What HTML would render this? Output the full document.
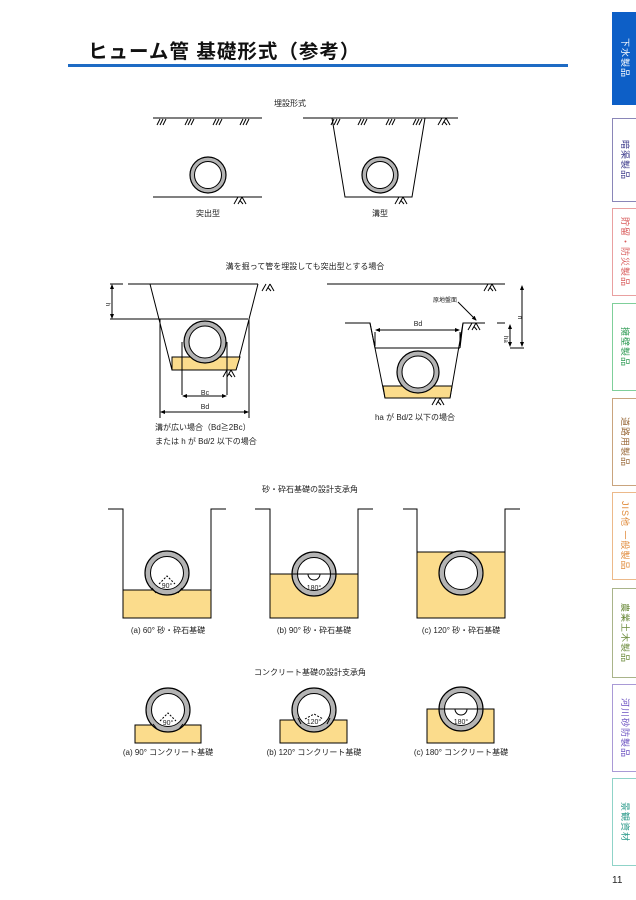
<!DOCTYPE html>
<html><head><meta charset="utf-8"><style>
html,body{margin:0;padding:0;background:#fff}
body{width:636px;height:900px;position:relative;overflow:hidden;font-family:"Liberation Sans","Noto Sans CJK JP",sans-serif}
.tab{position:absolute;left:612px;width:26px;border:1px solid;border-right:none;box-sizing:border-box;display:flex;align-items:center;justify-content:center}
.tab span{writing-mode:vertical-rl;text-orientation:sideways;font-size:9px;letter-spacing:1px;white-space:nowrap}
</style></head><body>
<div style="position:absolute;left:88px;top:35px;font-size:19.5px;font-weight:bold;color:#111;letter-spacing:1px">ヒューム管 基礎形式（参考）</div>
<div style="position:absolute;left:68px;top:64px;width:500px;height:3px;background:#1e6bc4"></div>

<div class="tab" style="top:12px;height:93px;background:#0d5fc7;border-color:#0d5fc7"><span style="color:#fff">下水製品</span></div>
<div class="tab" style="top:118px;height:84px;border-color:#8a86b8"><span style="color:#3c3a8a">暗渠製品</span></div>
<div class="tab" style="top:208px;height:88px;border-color:#e9a0a0"><span style="color:#d85a5a">貯留・防災製品</span></div>
<div class="tab" style="top:303px;height:88px;border-color:#7fcf9a"><span style="color:#2c9a52">擁壁製品</span></div>
<div class="tab" style="top:398px;height:88px;border-color:#c9a47e"><span style="color:#9a6a3a">道路用製品</span></div>
<div class="tab" style="top:492px;height:88px;border-color:#ecb98a"><span style="color:#e08a3a">JIS他 一般製品</span></div>
<div class="tab" style="top:588px;height:90px;border-color:#a9b48a"><span style="color:#6a8a3a">農業土木製品</span></div>
<div class="tab" style="top:684px;height:88px;border-color:#a99ad6"><span style="color:#6a50c0">河川砂防製品</span></div>
<div class="tab" style="top:778px;height:88px;border-color:#8fd3c8"><span style="color:#2a9a8a">景観資材</span></div>
<div style="position:absolute;left:612px;top:875px;font-size:10px;color:#222">11</div>

<svg width="636" height="900" style="position:absolute;left:0;top:0" font-family="Liberation Sans, Noto Sans CJK JP, sans-serif" font-size="8" fill="none" stroke="#000" stroke-width="1">
<defs>
<g id="h3"><path d="M0 6L3 0M3 6L6 0M6 6L9 0"/></g>
<g id="hx"><path d="M0 7L4 0M4 7L8 0M8 0L12 7M6 3.5L9 7"/></g>
<marker id="a" markerWidth="5" markerHeight="5" refX="4" refY="2" orient="auto-start-reverse" markerUnits="userSpaceOnUse"><path d="M0 0L5 2L0 4z" fill="#000" stroke="none"/></marker>
</defs>
<g fill="#222" stroke="none" text-anchor="middle">
<text x="290" y="106">埋設形式</text>
<text x="208" y="216">突出型</text>
<text x="380" y="216">溝型</text>
<text x="305" y="269">溝を掘って管を埋設しても突出型とする場合</text>
<text x="205" y="395" font-size="7">Bc</text>
<text x="205" y="409" font-size="7">Bd</text>
<text x="418" y="326" font-size="7">Bd</text>
<text x="445" y="302" font-size="6">原地盤面</text>
<text x="415" y="420">ha が Bd/2 以下の場合</text>
<text x="310" y="492">砂・砕石基礎の設計支承角</text>
<text x="168" y="633">(a) 60°  砂・砕石基礎</text>
<text x="314" y="633">(b) 90°  砂・砕石基礎</text>
<text x="461" y="633">(c) 120°  砂・砕石基礎</text>
<text x="310" y="675">コンクリート基礎の設計支承角</text>
<text x="168" y="755">(a) 90°  コンクリート基礎</text>
<text x="314" y="755">(b) 120°  コンクリート基礎</text>
<text x="461" y="755">(c) 180°  コンクリート基礎</text>
</g>
<g fill="#222" stroke="none">
<text x="155" y="430">溝が広い場合（Bd≧2Bc）</text>
<text x="155" y="444">または h が Bd/2 以下の場合</text>
<text x="106" y="303" font-size="6" transform="rotate(90 106 303)">h</text>
<text x="518" y="316" font-size="6" transform="rotate(90 518 316)">h</text>
<text x="504" y="336" font-size="6" transform="rotate(90 504 336)">ha</text>
</g>

<path d="M153 118H262M153 197H262"/>
<use href="#h3" x="157" y="119"/><use href="#h3" x="185" y="119"/><use href="#h3" x="213" y="119"/><use href="#h3" x="240" y="119"/>
<use href="#hx" x="234" y="197"/>
<circle cx="208" cy="175" r="18" fill="#b4b4b4" stroke-width="1.2"/><circle cx="208" cy="175" r="13.5" fill="#fff"/>
<path d="M303 118H458M332 118L345 197H412L425 118"/>
<use href="#h3" x="331" y="119"/><use href="#h3" x="358" y="119"/><use href="#h3" x="386" y="119"/><use href="#h3" x="413" y="119"/><use href="#hx" x="438" y="118"/>
<use href="#hx" x="395" y="197"/>
<circle cx="380" cy="175" r="18" fill="#b4b4b4" stroke-width="1.2"/><circle cx="380" cy="175" r="13.5" fill="#fff"/>

<path d="M110 284H123M128 284H258M150 284L172 370H236L258 284M110 319H155M155 319H248M160 319V418M249 319V418"/>
<path d="M172 357H240L236 370H172Z" fill="#fbdc8c"/>
<use href="#hx" x="262" y="284"/><use href="#hx" x="223" y="370"/>
<circle cx="205" cy="342" r="21" fill="#b4b4b4" stroke-width="1.2"/><circle cx="205" cy="342" r="16" fill="#fff"/>
<path d="M182 342V395M227 342V395"/>
<path d="M183 396H226" marker-start="url(#a)" marker-end="url(#a)"/>
<path d="M161 412H248" marker-start="url(#a)" marker-end="url(#a)"/>
<path d="M112 285V318" marker-start="url(#a)" marker-end="url(#a)"/>
<path d="M327 284H505M345 323H370L385 398H450L463 323H485M497 323H505M375 348H460"/>
<path d="M383 386H452L450 398H385Z" fill="#fbdc8c"/>
<path d="M370 323L375 348M463 323L460 348M375 332V346M460 332V346"/>
<path d="M376 330H459" marker-start="url(#a)" marker-end="url(#a)"/>
<use href="#hx" x="484" y="284"/><use href="#hx" x="468" y="323"/><use href="#hx" x="432" y="398"/>
<circle cx="418" cy="372" r="21" fill="#b4b4b4" stroke-width="1.2"/><circle cx="418" cy="372" r="16" fill="#fff"/>
<path d="M458 302L476 320" marker-end="url(#a)"/>
<path d="M510 348H524"/>
<path d="M522 286V346" marker-start="url(#a)" marker-end="url(#a)"/>
<path d="M510 325V346" marker-start="url(#a)" marker-end="url(#a)"/>

<rect x="123" y="590" width="88" height="28" fill="#fbdc8c" stroke="none"/>
<path d="M108 509H123V618H211V509H226M123 590H211"/>
<circle cx="167" cy="573" r="22" fill="#b4b4b4" stroke-width="1.2"/><circle cx="167" cy="573" r="16.5" fill="#fff"/>
<path d="M159 584L167 576L175 584" stroke-dasharray="2 1.5"/><path d="M152 588L156 593M182 588L178 593"/>
<text x="167" y="588" font-size="7" fill="#222" stroke="none" text-anchor="middle">90°</text>

<rect x="270" y="574" width="88" height="44" fill="#fbdc8c" stroke="none"/>
<path d="M255 509H270V618H358V509H373"/>
<circle cx="314" cy="574" r="22" fill="#b4b4b4" stroke-width="1.2"/>
<circle cx="314" cy="574" r="16.5" fill="#fff"/>
<path d="M270 574H358M308 574A6 6 0 0 0 320 574"/>
<text x="314" y="590" font-size="7" fill="#222" stroke="none" text-anchor="middle">180°</text>

<rect x="417" y="552" width="88" height="66" fill="#fbdc8c" stroke="none"/>
<path d="M403 509H417V618H505V509H520M417 552H505"/>
<circle cx="461" cy="573" r="22" fill="#b4b4b4" stroke-width="1.2"/><circle cx="461" cy="573" r="16.5" fill="#fff"/>

<rect x="135" y="725" width="66" height="18" fill="#fbdc8c"/>
<circle cx="168" cy="710" r="22" fill="#b4b4b4" stroke-width="1.2"/><circle cx="168" cy="710" r="16.5" fill="#fff"/>
<path d="M160 721L168 713L176 721" stroke-dasharray="2 1.5"/><path d="M153 724L157 729M183 724L179 729"/>
<text x="168" y="725" font-size="7" fill="#222" stroke="none" text-anchor="middle">90°</text>

<rect x="280" y="720" width="67" height="23" fill="#fbdc8c"/>
<circle cx="314" cy="710" r="22" fill="#b4b4b4" stroke-width="1.2"/><circle cx="314" cy="710" r="16.5" fill="#fff"/>
<path d="M305 719L314 714L323 719" stroke-dasharray="2 1.5"/><path d="M298 718L301 724M330 718L327 724"/>
<text x="314" y="724" font-size="7" fill="#222" stroke="none" text-anchor="middle">120°</text>

<rect x="427" y="709" width="67" height="34" fill="#fbdc8c"/>
<circle cx="461" cy="709" r="22" fill="#b4b4b4" stroke-width="1.2"/><circle cx="461" cy="709" r="16.5" fill="#fff"/>
<path d="M427 709H494M455 709A6 6 0 0 0 467 709"/>
<text x="461" y="724" font-size="7" fill="#222" stroke="none" text-anchor="middle">180°</text>
</svg>
</body></html>
